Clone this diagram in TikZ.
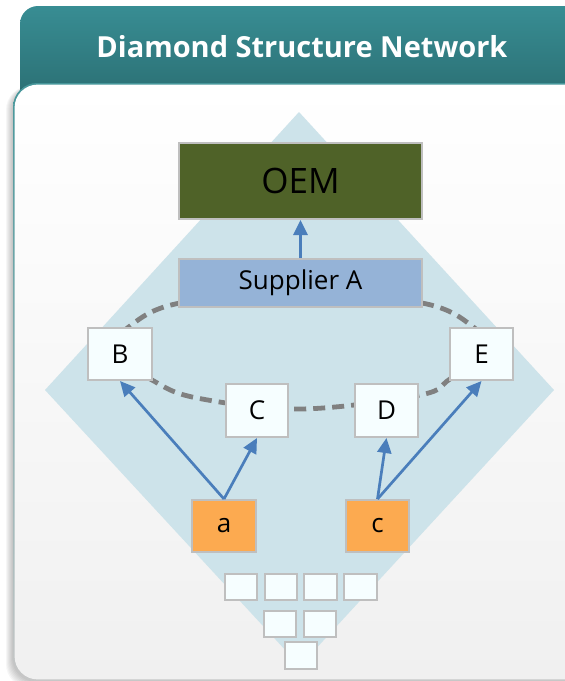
\documentclass[tikz,border=0pt]{standalone}
\usepackage{fontspec}
\setmainfont{Open Sans}
\usetikzlibrary{arrows.meta}
\definecolor{hdtop}{RGB}{56,141,147}
\definecolor{hdbot}{RGB}{40,104,108}
\definecolor{paneledge}{RGB}{70,150,154}
\definecolor{panelbot}{RGB}{240,240,240}
\definecolor{diam}{RGB}{205,227,234}
\definecolor{oemfill}{RGB}{79,98,40}
\definecolor{supfill}{RGB}{149,179,215}
\definecolor{boxfill}{RGB}{246,254,255}
\definecolor{orangefill}{RGB}{252,170,80}
\definecolor{boxline}{RGB}{191,191,191}
\definecolor{arrowblue}{RGB}{74,126,187}
\definecolor{dashgray}{RGB}{128,128,128}
\begin{document}
\begin{tikzpicture}[x=1pt,y=-1pt,
  nbox/.style={draw=boxline, line width=2pt, rectangle, inner sep=0pt, text=black,
    font=\fontsize{26}{28}\selectfont},
  whitebox/.style={nbox, fill=boxfill},
  orangebox/.style={nbox, fill=orangefill},
  tinybox/.style={draw=boxline, line width=2pt, fill=boxfill, inner sep=0pt},
  flow/.style={draw=arrowblue, line width=2.7pt, -{Triangle[length=15pt,width=14pt]}},
  ring/.style={draw=dashgray, line width=4.8pt, dash pattern=on 12pt off 7pt}
]
\useasboundingbox (0,0) rectangle (565,681);
\clip (0,0) rectangle (565,681);
% header
\shade[top color=hdtop, bottom color=hdbot, rounded corners=18pt] (20,6) rectangle (620,120);
\node[text=white, font=\bfseries\fontsize{29}{31}\selectfont] (title) at (302,47) {Diamond Structure Network};
% panel shadow
\foreach \s in {1,...,7}{
  \fill[black, opacity=0.035, rounded corners=24pt] (13-\s,86) rectangle (620,681+\s);
}
% panel
\shade[top color=paneledge, bottom color=black!22, rounded corners=24pt] (13,83) rectangle (620,681);
\shade[top color=white, bottom color=panelbot, rounded corners=23pt] (14.6,84.6) rectangle (620,679.4);
% diamond
\fill[diam] (299,112) -- (554,390) -- (300,666) -- (45,390) -- cycle;
% dashed ring
\draw[ring] plot[smooth cycle, tension=0.6] coordinates {
  (301,293) (422,303) (472,326) (488,352) (450,379) (420,395) (301,409)
  (197,398) (152,380) (114,352) (130,326) (180,303)};
% boxes
\node[nbox, fill=oemfill, minimum width=243pt, minimum height=76pt,
  font=\fontsize{35}{37}\selectfont] (oem) at (300.5,181) {OEM};
\node[nbox, fill=supfill, minimum width=243pt, minimum height=48pt] (sup) at (300.5,283) {Supplier A};
\node[whitebox, minimum width=64pt, minimum height=52pt] (B) at (120,354) {B};
\node[whitebox, minimum width=63pt, minimum height=52pt] (E) at (481.5,354) {E};
\node[whitebox, minimum width=62pt, minimum height=53pt] (C) at (257,410.5) {C};
\node[whitebox, minimum width=63pt, minimum height=53pt] (D) at (386.5,410.5) {D};
\node[orangebox, minimum width=64pt, minimum height=52pt] (a) at (224,526) {a};
\node[orangebox, minimum width=63pt, minimum height=52pt] (c) at (377.5,526) {c};
% small boxes
\node[tinybox, minimum width=32pt, minimum height=26pt] (s1) at (241,587) {};
\node[tinybox, minimum width=32pt, minimum height=26pt] (s2) at (281,587) {};
\node[tinybox, minimum width=33pt, minimum height=26pt] (s3) at (320.5,587) {};
\node[tinybox, minimum width=33pt, minimum height=26pt] (s4) at (360.5,587) {};
\node[tinybox, minimum width=32pt, minimum height=26pt] (s5) at (280,624) {};
\node[tinybox, minimum width=32pt, minimum height=26pt] (s6) at (320,624) {};
\node[tinybox, minimum width=32pt, minimum height=27pt] (s7) at (301,655.5) {};
% arrows
\draw[flow] (sup.north) -- (oem.south);
\draw[flow] (a.north) -- (B.south);
\draw[flow] (a.north) -- (C.south);
\draw[flow] (c.north) -- (D.south);
\draw[flow] (c.north) -- (E.south);
\end{tikzpicture}
\end{document}
